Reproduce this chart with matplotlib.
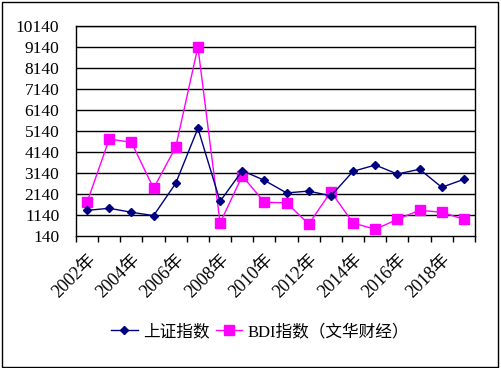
import numpy as np
import matplotlib
matplotlib.use('Agg')
import matplotlib.pyplot as plt
from matplotlib.patches import Rectangle

plt.rcParams['font.family'] = ['Liberation Serif', 'Noto Sans CJK SC', 'DejaVu Sans']

# data
years = [str(y) + '年' for y in range(2002, 2020)]
shanghai = [1360, 1460, 1270, 1110, 2650, 5270, 1790, 3250, 2790, 2190,
            2280, 2050, 3220, 3520, 3090, 3320, 2460, 2840]
bdi = [1745, 4760, 4600, 2410, 4380, 9140, 760, 3000, 1745, 1720,
       710, 2250, 760, 460, 935, 1365, 1270, 935]
yticks = list(range(140, 10141, 1000))

fig = plt.figure(figsize=(5.02, 3.68), dpi=100)
# plot area in pixels: x 76..475, y 26..236
ax = fig.add_axes([76/502, 1-236/368, (475-76)/502, (236-26)/368])

x = np.arange(len(years))
ax.plot(x, shanghai, color='#000080', lw=1, marker='D', ms=4.5,
        mfc='#000080', mec='#000080', label='上证指数', zorder=4)
ax.plot(x, bdi, color='#FF00FF', lw=1, marker='s', ms=7,
        mfc='#FF00FF', mec='#FF00FF', label='BDI指数（文华财经）', zorder=3)

ax.set_xlim(-0.5, len(years) - 0.5)
ax.set_ylim(140, 10140)
ax.set_yticks(yticks)
ax.set_yticklabels([str(v) for v in yticks], fontsize=12.5)
ax.tick_params(axis='y', length=0, pad=12)
for v in yticks[1:]:
    ax.axhline(v, color='black', lw=1, zorder=1)

ax.set_xticks(x[::2])
ax.set_xticklabels(years[::2], fontsize=13, rotation=45,
                   ha='right', va='top', rotation_mode='anchor')
ax.tick_params(axis='x', which='major', length=0, pad=11)
ax.set_xticks(np.arange(-0.5, len(years)), minor=True)
ax.tick_params(axis='x', which='minor', length=4, direction='out', width=1)

for s in ax.spines.values():
    s.set_color('black')
    s.set_linewidth(1)

fig.legend(loc='center', bbox_to_anchor=(260/502, 1-332/368), ncol=2,
           frameon=False, fontsize=12, handlelength=1.6, handletextpad=0.3,
           columnspacing=0.4)

# outer border
fig.patches.append(Rectangle((2/502, 1/368), 496/502, 365/368,
                             transform=fig.transFigure, fill=False,
                             ec='black', lw=1))

fig.savefig('out.png', dpi=100)
